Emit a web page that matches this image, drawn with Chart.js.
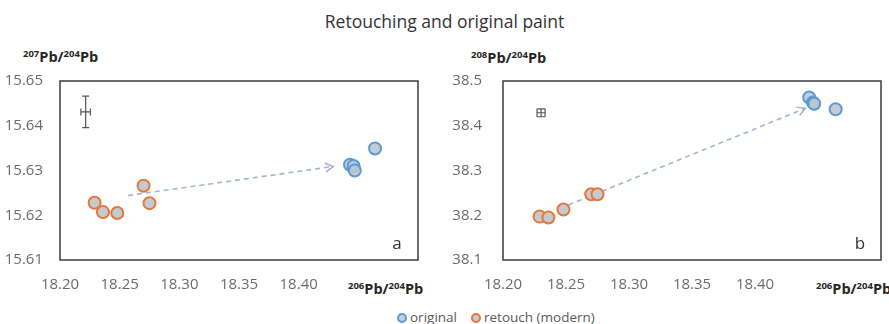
<!DOCTYPE html>
<html>
<head>
<meta charset="utf-8">
<script src="https://cdn.jsdelivr.net/npm/chart.js@4.4.1/dist/chart.umd.min.js"></script>
<style>
  body { margin: 0; width: 889px; height: 324px; background: #fff; position: relative; overflow: hidden; font-family: 'Open Sans', sans-serif; }
  canvas { position: absolute; top: 0; }
  #chartA { left: 0; }
  #chartB { left: 445px; }
  .title { position: absolute; top: 9px; left: 0; width: 889px; text-align: center; font-size: 17.5px; color: #333; }
  .axis { position: absolute; font-weight: bold; font-size: 14.5px; line-height: 1; color: #262626; white-space: nowrap; }
  .axis sup { font-size: 9.5px; vertical-align: 5px; line-height: 1; }
  .legend { position: absolute; left: 397px; top: 308px; font-size: 13.5px; color: #595959; white-space: nowrap; }
  .mk { display: inline-block; width: 6px; height: 6px; border: 2px solid #5b9bd5; background: #c6ccd4; border-radius: 50%; margin-right: 3px; vertical-align: -1px; }
  .mk.orange { border-color: #e3783a; margin-left: 14px; }
</style>
</head>
<body>
<div class="title">Retouching and original paint</div>
<div class="axis" style="left:23px; top:49px;"><sup>207</sup>Pb/<sup>204</sup>Pb</div>
<div class="axis" style="left:471px; top:50px;"><sup>208</sup>Pb/<sup>204</sup>Pb</div>
<div class="axis" style="left:348px; top:281px;"><sup>206</sup>Pb/<sup>204</sup>Pb</div>
<div class="axis" style="left:816px; top:281px;"><sup>206</sup>Pb/<sup>204</sup>Pb</div>
<canvas id="chartA" width="440" height="300"></canvas>
<canvas id="chartB" width="444" height="300"></canvas>
<div class="legend"><span class="mk"></span>original<span class="mk orange"></span>retouch (modern)</div>

<script>
// 206Pb/204Pb (shared x)
const xOriginal = [18.443, 18.446, 18.447, 18.464];
const xRetouch = [18.229, 18.236, 18.248, 18.270, 18.275];

// panel a: 207Pb/204Pb
const y207Original = [15.6313, 15.6310, 15.6300, 15.6349];
const y207Retouch = [15.6228, 15.6207, 15.6205, 15.6266, 15.6227];

// panel b: 208Pb/204Pb
const y208Original = [38.463, 38.452, 38.449, 38.437];
const y208Retouch = [38.197, 38.195, 38.213, 38.247, 38.247];

// tick labels
const xTicks = [18.20, 18.25, 18.30, 18.35, 18.40];
const y207Ticks = [15.61, 15.62, 15.63, 15.64, 15.65];
const y208Ticks = [38.1, 38.2, 38.3, 38.4, 38.5];

// arrows (start, end) and error markers [x, y, dx, dy]
const arrow207 = [[18.257, 15.6244], [18.429, 15.6309]];
const arrow208 = [[18.252, 38.223], [18.440, 38.439]];
const err207 = [18.2215, 15.6431, 0.004, 0.0035];
const err208 = [18.2302, 38.429, 0.0032, 0.0089];

const pts = (xs, ys) => xs.map((v, i) => ({ x: v, y: ys[i] }));

const panelPlugin = {
  id: 'panel',
  beforeDatasetsDraw(chart, args, opts) {
    const { ctx, scales: { x, y } } = chart;
    const [p0, p1] = opts.arrow.map(p => [x.getPixelForValue(p[0]), y.getPixelForValue(p[1])]);
    ctx.save();
    // dashed arrow
    ctx.strokeStyle = '#a7b4cb';
    ctx.lineWidth = 1.6;
    ctx.setLineDash([5, 4]);
    ctx.beginPath();
    ctx.moveTo(p0[0], p0[1]);
    ctx.lineTo(p1[0], p1[1]);
    ctx.stroke();
    ctx.setLineDash([]);
    const ang = Math.atan2(p1[1] - p0[1], p1[0] - p0[0]);
    ctx.beginPath();
    ctx.moveTo(p1[0] - 9 * Math.cos(ang - 0.5), p1[1] - 9 * Math.sin(ang - 0.5));
    ctx.lineTo(p1[0], p1[1]);
    ctx.lineTo(p1[0] - 9 * Math.cos(ang + 0.5), p1[1] - 9 * Math.sin(ang + 0.5));
    ctx.stroke();

    // error bar marker
    const [ex, ey, dx, dy] = opts.err;
    const cx = x.getPixelForValue(ex), cy = y.getPixelForValue(ey);
    const x0 = x.getPixelForValue(ex - dx), x1 = x.getPixelForValue(ex + dx);
    const y0 = y.getPixelForValue(ey + dy), y1 = y.getPixelForValue(ey - dy);
    const cap = opts.cap;
    ctx.strokeStyle = '#555';
    ctx.lineWidth = 1.2;
    ctx.beginPath();
    ctx.moveTo(cx, y0); ctx.lineTo(cx, y1);
    ctx.moveTo(cx - cap, y0); ctx.lineTo(cx + cap, y0);
    ctx.moveTo(cx - cap, y1); ctx.lineTo(cx + cap, y1);
    ctx.moveTo(x0, cy); ctx.lineTo(x1, cy);
    ctx.moveTo(x0, cy - cap); ctx.lineTo(x0, cy + cap);
    ctx.moveTo(x1, cy - cap); ctx.lineTo(x1, cy + cap);
    ctx.stroke();
    ctx.restore();
  },
  afterDraw(chart, args, opts) {
    const { ctx, chartArea: a } = chart;
    ctx.save();
    ctx.strokeStyle = '#3c3c3c';
    ctx.lineWidth = 1.5;
    ctx.strokeRect(a.left, a.top, a.right - a.left, a.bottom - a.top);
    ctx.fillStyle = '#333';
    ctx.font = '17px "Open Sans"';
    ctx.textAlign = 'center';
    ctx.textBaseline = 'middle';
    ctx.fillText(opts.letter, a.right - 21, a.bottom - 16);
    ctx.restore();
  }
};

function makeChart(id, yOrig, yRet, yTicks, digits, arrow, err, cap, letter, yWidth, yPad, rightPad) {
  return new Chart(document.getElementById(id), {
    type: 'scatter',
    data: {
      datasets: [
        {
          label: 'original',
          data: pts(xOriginal, yOrig),
          borderColor: '#5b9bd5',
          backgroundColor: 'rgba(190, 197, 207, 0.9)',
          pointRadius: 6,
          pointBorderWidth: 2,
        },
        {
          label: 'retouch (modern)',
          data: pts(xRetouch, yRet),
          borderColor: '#e3783a',
          backgroundColor: 'rgba(196, 202, 210, 1)',
          pointRadius: 6,
          pointBorderWidth: 2,
        }
      ]
    },
    options: {
      responsive: false,
      animation: false,
      devicePixelRatio: 1,
      layout: { padding: { left: 0, top: 81, right: rightPad, bottom: 10 } },
      plugins: {
        legend: { display: false },
        tooltip: { enabled: false },
        panel: { arrow: arrow, err: err, cap: cap, letter: letter }
      },
      scales: {
        x: {
          type: 'linear',
          min: 18.20,
          max: 18.50,
          afterBuildTicks: s => { s.ticks = xTicks.map(v => ({ value: v })); },
          afterFit: s => { s.height = 30; },
          grid: { display: false, drawTicks: false },
          border: { display: false },
          ticks: {
            padding: 16,
            color: '#6b6b6b',
            font: { family: 'Open Sans', size: 15 },
            callback: v => v.toFixed(2)
          }
        },
        y: {
          type: 'linear',
          min: yTicks[0],
          max: yTicks[yTicks.length - 1],
          afterBuildTicks: s => { s.ticks = yTicks.map(v => ({ value: v })); },
          afterFit: s => { s.width = yWidth; },
          grid: { display: false, drawTicks: false },
          border: { display: false },
          ticks: {
            padding: yPad,
            color: '#6b6b6b',
            font: { family: 'Open Sans', size: 15 },
            callback: v => v.toFixed(digits)
          }
        }
      }
    },
    plugins: [panelPlugin]
  });
}

makeChart('chartA', y207Original, y207Retouch, y207Ticks, 2, arrow207, err207, 3.5, 'a', 60, 17, 22);
makeChart('chartB', y208Original, y208Retouch, y208Ticks, 1, arrow208, err208, 4, 'b', 58, 21, 7);
</script>
</body>
</html>
